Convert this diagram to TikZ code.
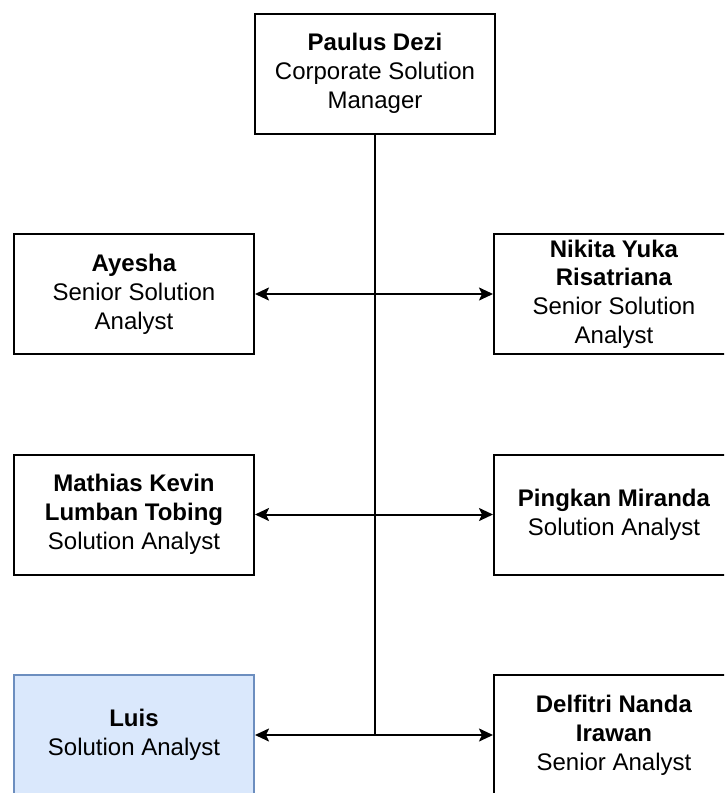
\documentclass[tikz,border=0pt]{standalone}
\usepackage{fontspec}
\setmainfont{Liberation Sans}
\usepackage{tikz}
\usetikzlibrary{arrows.meta}
\definecolor{biruMuda}{HTML}{DAE8FC}
\definecolor{biruTepi}{HTML}{6C8EBF}

\begin{document}
\begin{tikzpicture}[x=0.5pt,y=-0.5pt,
  kotak/.style={draw,line width=1pt,fill=white,minimum width=120pt,minimum height=60pt,
    align=center,inner sep=2pt,font=\fontsize{12}{14.4}\selectfont},
  panah/.style={line width=1pt,-{Stealth[inset=1.5pt,length=7pt,width=6.5pt]}}]
\useasboundingbox (0,0) rectangle (724,793);
\clip (0,0) rectangle (724,793);
\fill[white] (0,0) rectangle (724,793);
% atasan
\node[kotak] (pd) at (375,73.5) {\textbf{Paulus Dezi}\\Corporate Solution\\Manager};
% baris 1
\node[kotak] (ay) at (134,294) {\textbf{Ayesha}\\Senior Solution\\Analyst};
\node[kotak] (ny) at (614,294) {\textbf{Nikita Yuka}\\\textbf{Risatriana}\\Senior Solution\\Analyst};
% baris 2
\node[kotak] (mk) at (134,514.5) {\textbf{Mathias Kevin}\\\textbf{Lumban Tobing}\\Solution Analyst};
\node[kotak] (pm) at (614,514.5) {\textbf{Pingkan Miranda}\\Solution Analyst};
% baris 3
\node[kotak,fill=biruMuda,draw=biruTepi] (lu) at (134,735) {\textbf{Luis}\\Solution Analyst};
\node[kotak] (dn) at (614,735) {\textbf{Delfitri Nanda}\\\textbf{Irawan}\\Senior Analyst};
\coordinate (t1) at (375,294);
\coordinate (t2) at (375,514.5);
\coordinate (t3) at (375,735);
\draw[line width=1pt] (pd.south) -- (t3);
\foreach \t/\a/\b in {t1/ay/ny,t2/mk/pm,t3/lu/dn}{
  \draw[panah] (\t) -- (\a.east);
  \draw[panah] (\t) -- (\b.west);
}
\end{tikzpicture}
\end{document}
